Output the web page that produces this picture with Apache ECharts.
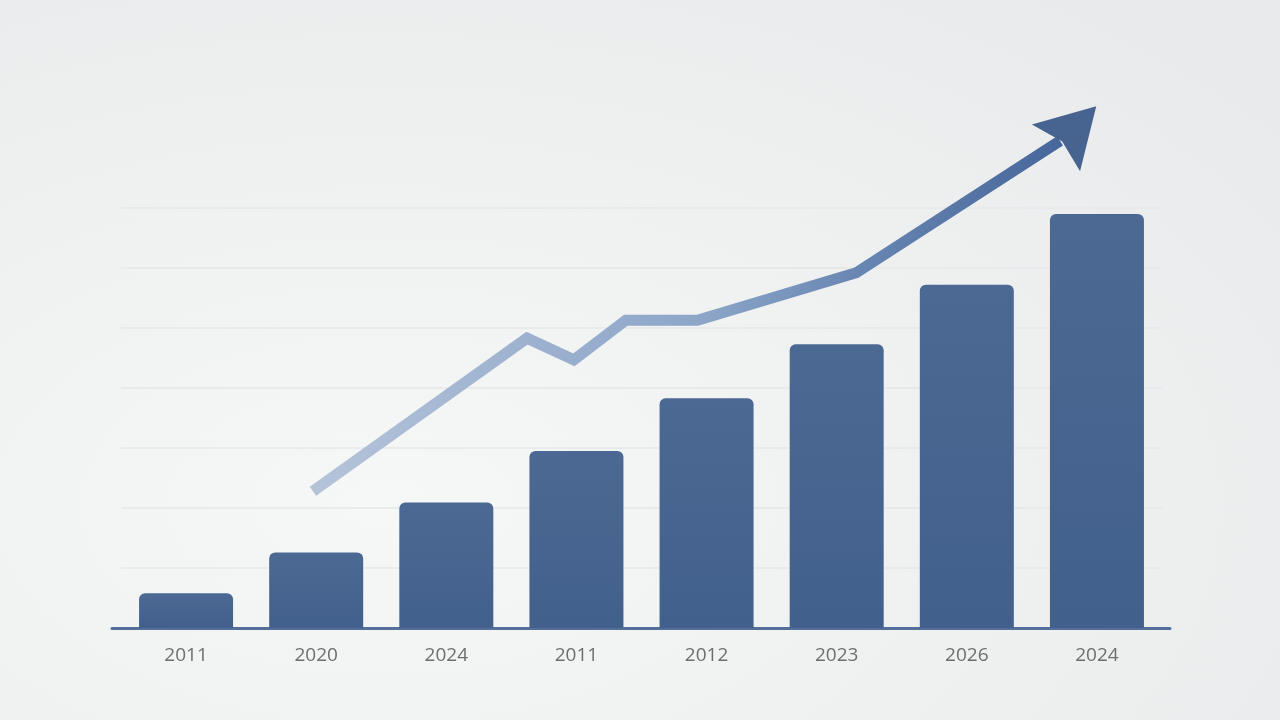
<!DOCTYPE html>
<html>
<head>
<meta charset="utf-8">
<script src="https://cdn.jsdelivr.net/npm/echarts@6/dist/echarts.min.js"></script>
<style>
html,body{margin:0;padding:0;width:1280px;height:720px;overflow:hidden;
background: radial-gradient(ellipse 90% 90% at 30% 70%, #f6f7f7 0%, #f0f1f1 45%, #e9eaeb 100%);}
#chart{width:1280px;height:720px;}
</style>
</head>
<body>
<div id="chart"></div>
<script>
// Category tick labels (as shown, including repeats)
var categories = ['2011', '2020', '2024', '2011', '2012', '2023', '2026', '2024'];
// Bar heights (value units)
var barValues = [5.8, 12.6, 20.9, 29.5, 38.3, 47.3, 57.2, 69.0];
// Trend line points: x in category units (0..8 across the plot), y in value units
var trendX = [1.475, 3.12, 3.48, 3.88, 4.43, 5.65, 7.216];
var trendY = [22.8, 48.3, 44.7, 51.3, 51.3, 59.2, 81.2];
// Arrow head position (x, y) in the same units
var arrowPoint = [7.34, 83.5];

var trendData = trendX.map(function (x, i) { return [x, trendY[i]]; });
var idx = categories.map(function (_, i) { return i; });

var chart = echarts.init(document.getElementById('chart'));
chart.setOption({
  backgroundColor: 'transparent',
  animation: false,
  grid: [
    { left: 121, right: 118, top: 208, bottom: 92 },
    { left: 112, right: 110, top: 208, bottom: 92 }
  ],
  xAxis: [
    {
      type: 'category', gridIndex: 0, data: idx,
      axisLine: { show: false }, axisTick: { show: false },
      axisLabel: {
        margin: 18, color: '#6e6e6e', fontSize: 19, fontFamily: 'Open Sans',
        formatter: function (v) { return categories[+v]; }
      },
      splitLine: { show: false }
    },
    {
      type: 'value', gridIndex: 0, min: 0, max: 8, show: false
    },
    {
      type: 'value', gridIndex: 1, min: 0, max: 1,
      axisLine: { show: true, lineStyle: { color: '#54709a', width: 3 } },
      axisTick: { show: false }, axisLabel: { show: false }, splitLine: { show: false }
    }
  ],
  yAxis: [
    {
      type: 'value', gridIndex: 0, min: 0, max: 70, interval: 10,
      axisLine: { show: false }, axisTick: { show: false }, axisLabel: { show: false },
      splitLine: { show: true, lineStyle: { color: '#e6e7e8', width: 1.5 } }
    },
    { type: 'value', gridIndex: 1, min: 0, max: 1, show: false }
  ],
  series: [
    {
      type: 'bar', xAxisIndex: 0, yAxisIndex: 0, data: barValues,
      barWidth: 94,
      itemStyle: {
        borderRadius: [6, 6, 0, 0],
        color: new echarts.graphic.LinearGradient(0, 0, 0, 1, [
          { offset: 0, color: '#4c6993' },
          { offset: 1, color: '#41608b' }
        ])
      },
      z: 2
    },
    {
      type: 'line', xAxisIndex: 1, yAxisIndex: 0, data: trendData,
      clip: false, symbol: 'none', smooth: false,
      lineStyle: {
        width: 11, cap: 'butt', join: 'miter',
        color: new echarts.graphic.LinearGradient(0, 0, 1, 0, [
          { offset: 0, color: '#b5c4d9' },
          { offset: 0.3, color: '#9cb1cf' },
          { offset: 0.52, color: '#8da6c8' },
          { offset: 0.73, color: '#6886b2' },
          { offset: 1, color: '#46659a' }
        ])
      },
      z: 3
    },
    {
      type: 'scatter', xAxisIndex: 1, yAxisIndex: 0, data: [arrowPoint],
      clip: false,
      symbol: 'path://M33.5,0 L67,58 L33.5,49 L0,58 Z',
      symbolSize: [67, 58], symbolRotate: -44,
      itemStyle: { color: '#46648f', opacity: 1 },
      z: 4
    }
  ]
});
</script>
</body>
</html>
